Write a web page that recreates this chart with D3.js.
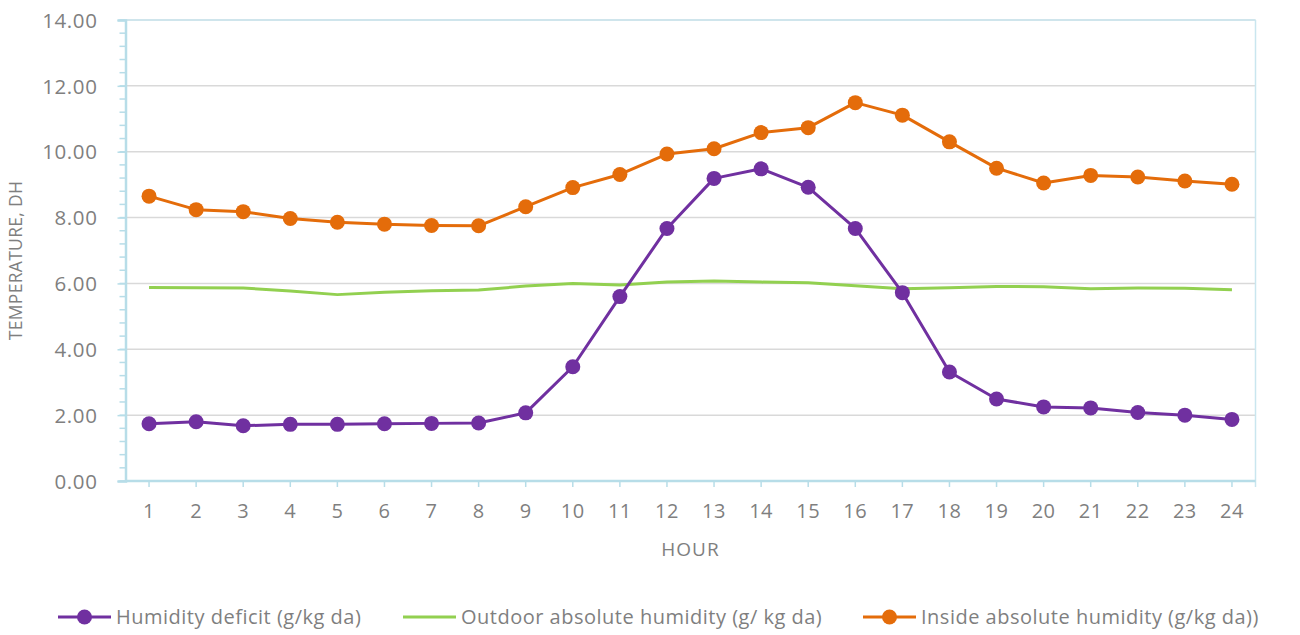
<!DOCTYPE html>
<html><head><meta charset="utf-8">
<script src="https://cdn.jsdelivr.net/npm/d3@7"></script>
<style>
html,body{margin:0;padding:0;background:#fff;}
text{font-family:"Open Sans",sans-serif;fill:#7f7f7f;}
</style></head>
<body>
<svg id="chart" width="1300" height="635"></svg>
<script>
const hours = ["1","2","3","4","5","6","7","8","9","10","11","12","13","14","15","16","17","18","19","20","21","22","23","24"];
const humidityDeficit = [1.74,1.80,1.68,1.72,1.72,1.74,1.75,1.76,2.07,3.47,5.60,7.67,9.19,9.48,8.92,7.67,5.72,3.31,2.49,2.25,2.22,2.08,2.00,1.87];
const outdoorHumidity = [5.88,5.87,5.86,5.77,5.66,5.73,5.78,5.80,5.92,6.00,5.95,6.04,6.07,6.04,6.02,5.93,5.84,5.87,5.91,5.90,5.84,5.86,5.85,5.81];
const insideHumidity = [8.65,8.24,8.18,7.97,7.86,7.80,7.76,7.75,8.33,8.91,9.31,9.93,10.09,10.58,10.73,11.49,11.11,10.30,9.50,9.05,9.28,9.23,9.11,9.01];
const yTicks = [0,2,4,6,8,10,12,14];
const seriesNames = ["Humidity deficit (g/kg da)","Outdoor absolute humidity (g/ kg da)","Inside absolute humidity (g/kg da))"];
const seriesColors = ["#7030a0","#92d050","#e46c0a"];
const seriesMarkers = [true,false,true];
const xTitle = "HOUR";
const yTitle = "TEMPERATURE, DH";

const series = [humidityDeficit, outdoorHumidity, insideHumidity];
const svg = d3.select("#chart");
const L = 125.5, R = 1255.5, T = 20, B = 481;

const x = d3.scaleBand().domain(hours).range([L, R]);
const y = d3.scaleLinear().domain([0, 14]).range([B, T]);
const cx = h => x(h) + x.bandwidth() / 2;

// gridlines
svg.append("g").selectAll("line").data(yTicks.filter(t => t > 0)).join("line")
  .attr("x1", L).attr("x2", R).attr("y1", d => y(d)).attr("y2", d => y(d))
  .attr("stroke", "#d9d9d9").attr("stroke-width", 1.5);

// top & right border
svg.append("line").attr("x1", L).attr("x2", R).attr("y1", T).attr("y2", T).attr("stroke", "#c9e6ef").attr("stroke-width", 1.5);
svg.append("line").attr("x1", R).attr("x2", R).attr("y1", T).attr("y2", B + 6).attr("stroke", "#c9e6ef").attr("stroke-width", 1.5);

// y axis
const minorTicks = d3.range(0, 14.001, 0.4).map(v => +v.toFixed(2));
const yAxis = svg.append("g").attr("transform", `translate(${L},0)`)
  .call(d3.axisLeft(y).tickValues(yTicks).tickFormat(d3.format(".2f")).tickSize(8).tickPadding(20));
yAxis.select(".domain").attr("stroke", "#b7dde8").attr("stroke-width", 2.5);
yAxis.selectAll(".tick line").attr("stroke", "#b7dde8").attr("stroke-width", 1.5);
yAxis.selectAll(".tick text").attr("fill", "#7f7f7f").style("font-size", "20.5px").style("letter-spacing", "0.6px")
  .attr("font-family", "Open Sans").attr("dy", "0.35em");
svg.append("g").selectAll("line").data(minorTicks).join("line")
  .attr("x1", L - 6).attr("x2", L).attr("y1", d => y(d)).attr("y2", d => y(d))
  .attr("stroke", "#b7dde8").attr("stroke-width", 1.5);

// x axis
const xAxis = svg.append("g").attr("transform", `translate(0,${B})`)
  .call(d3.axisBottom(x).tickSize(6).tickPadding(17).tickSizeOuter(0));
xAxis.select(".domain").attr("stroke", "#b7dde8").attr("stroke-width", 2.5).attr("d", `M${L},0H${R}`);
xAxis.selectAll(".tick line").attr("stroke", "#b7dde8").attr("stroke-width", 1.5);
xAxis.selectAll(".tick text").attr("fill", "#7f7f7f").style("font-size", "20px").style("letter-spacing", "0.5px")
  .attr("font-family", "Open Sans");

// titles
svg.append("text").attr("x", (L + R) / 2).attr("y", 556).attr("text-anchor", "middle")
  .style("font-size", "19px").style("letter-spacing", "1px").text(xTitle);
svg.append("text").attr("transform", `translate(22,${(T + B) / 2 + 10}) rotate(-90)`).attr("text-anchor", "middle")
  .style("font-size", "17.5px").style("letter-spacing", "0.3px").text(yTitle);

// series
const line = d3.line().x((d, i) => cx(hours[i])).y(d => y(d));
const order = [1, 0, 2];
order.forEach(si => {
  const g = svg.append("g");
  g.append("path").datum(series[si]).attr("d", line).attr("fill", "none")
    .attr("stroke", seriesColors[si]).attr("stroke-width", 3).attr("stroke-linejoin", "round");
  if (seriesMarkers[si]) {
    g.selectAll("circle").data(series[si]).join("circle")
      .attr("cx", (d, i) => cx(hours[i])).attr("cy", d => y(d)).attr("r", 7.5)
      .attr("fill", seriesColors[si]);
  }
});

// legend
const legendX = [58, 403, 863];
const ly = 617;
const lg = svg.append("g");
seriesNames.forEach((name, i) => {
  const g = lg.append("g").attr("transform", `translate(${legendX[i]},${ly})`);
  g.append("line").attr("x1", 0).attr("x2", 53).attr("stroke", seriesColors[i]).attr("stroke-width", 3);
  if (seriesMarkers[i]) g.append("circle").attr("cx", 26.5).attr("r", 7.5).attr("fill", seriesColors[i]);
  g.append("text").attr("x", 58).attr("dy", "0.35em").style("font-size", "20px").style("letter-spacing", "0.5px").text(name);
});
</script>
</body></html>
